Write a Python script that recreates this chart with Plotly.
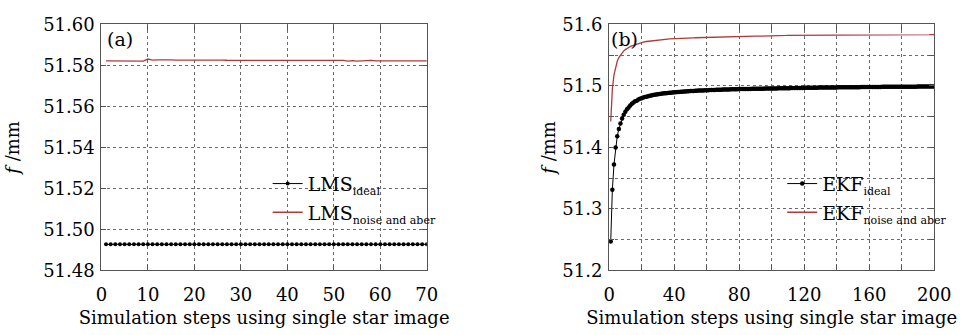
import plotly.graph_objects as go

# ---------------- data ----------------
lms_ideal = [
    51.4927, 51.4927, 51.4927, 51.4927, 51.4927, 51.4927, 51.4927, 51.4927, 51.4927, 51.4927,
    51.4927, 51.4927, 51.4927, 51.4927, 51.4927, 51.4927, 51.4927, 51.4927, 51.4927, 51.4927,
    51.4927, 51.4927, 51.4927, 51.4927, 51.4927, 51.4927, 51.4927, 51.4927, 51.4927, 51.4927,
    51.4927, 51.4927, 51.4927, 51.4927, 51.4927, 51.4927, 51.4927, 51.4927, 51.4927, 51.4927,
    51.4927, 51.4927, 51.4927, 51.4927, 51.4927, 51.4927, 51.4927, 51.4927, 51.4927, 51.4927,
    51.4927, 51.4927, 51.4927, 51.4927, 51.4927, 51.4927, 51.4927, 51.4927, 51.4927, 51.4927,
    51.4927, 51.4927, 51.4927, 51.4927, 51.4927, 51.4927, 51.4927, 51.4927, 51.4927, 51.4927,
]
lms_noise = [
    51.5822, 51.5822, 51.5822, 51.5822, 51.5822, 51.5822, 51.5822, 51.5822, 51.5821, 51.5831,
    51.5826, 51.5827, 51.5828, 51.5828, 51.5827, 51.5826, 51.5826, 51.5827, 51.5828, 51.5829,
    51.5829, 51.5829, 51.5829, 51.5828, 51.5828, 51.5826, 51.5825, 51.5825, 51.5824, 51.5824,
    51.5823, 51.5823, 51.5823, 51.5823, 51.5823, 51.5823, 51.5823, 51.5823, 51.5823, 51.5823,
    51.5823, 51.5823, 51.5823, 51.5823, 51.5823, 51.5823, 51.5823, 51.5823, 51.5823, 51.5823,
    51.5822, 51.5824, 51.5821, 51.5823, 51.5821, 51.5823, 51.5822, 51.5824, 51.5822, 51.5821,
    51.5822, 51.5822, 51.5822, 51.5822, 51.5822, 51.5822, 51.5822, 51.5822, 51.5822, 51.5822,
]
ekf_ideal = [
    51.247, 51.331, 51.372, 51.400, 51.418, 51.430, 51.439, 51.447, 51.453, 51.458,
    51.462, 51.465, 51.468, 51.471, 51.473, 51.475, 51.476, 51.478, 51.479, 51.480,
    51.4810, 51.4818, 51.4825, 51.4832, 51.4838, 51.4844, 51.4850, 51.4855, 51.4860, 51.4865,
    51.4869, 51.4873, 51.4876, 51.4879, 51.4882, 51.4885, 51.4888, 51.4890, 51.4893, 51.4895,
    51.4897, 51.4900, 51.4902, 51.4904, 51.4906, 51.4908, 51.4910, 51.4912, 51.4913, 51.4915,
    51.4917, 51.4918, 51.4920, 51.4921, 51.4923, 51.4924, 51.4926, 51.4927, 51.4929, 51.4930,
    51.4931, 51.4932, 51.4933, 51.4934, 51.4935, 51.4936, 51.4937, 51.4938, 51.4939, 51.4940,
    51.4941, 51.4942, 51.4942, 51.4943, 51.4944, 51.4945, 51.4945, 51.4946, 51.4947, 51.4948,
    51.4948, 51.4949, 51.4949, 51.4950, 51.4950, 51.4951, 51.4951, 51.4952, 51.4952, 51.4953,
    51.4953, 51.4954, 51.4954, 51.4955, 51.4955, 51.4956, 51.4956, 51.4957, 51.4957, 51.4958,
    51.4958, 51.4959, 51.4959, 51.4960, 51.4960, 51.4961, 51.4961, 51.4962, 51.4962, 51.4963,
    51.4963, 51.4964, 51.4964, 51.4965, 51.4965, 51.4966, 51.4966, 51.4967, 51.4967, 51.4968,
    51.4968, 51.4969, 51.4969, 51.4970, 51.4970, 51.4971, 51.4971, 51.4971, 51.4972, 51.4972,
    51.4972, 51.4973, 51.4973, 51.4973, 51.4974, 51.4974, 51.4974, 51.4975, 51.4975, 51.4975,
    51.4976, 51.4976, 51.4976, 51.4976, 51.4977, 51.4977, 51.4977, 51.4977, 51.4978, 51.4978,
    51.4978, 51.4979, 51.4979, 51.4979, 51.4980, 51.4980, 51.4980, 51.4981, 51.4981, 51.4981,
    51.4982, 51.4982, 51.4982, 51.4982, 51.4983, 51.4983, 51.4983, 51.4984, 51.4984, 51.4984,
    51.4984, 51.4985, 51.4985, 51.4985, 51.4985, 51.4986, 51.4986, 51.4986, 51.4986, 51.4987,
    51.4987, 51.4987, 51.4987, 51.4987, 51.4988, 51.4988, 51.4988, 51.4988, 51.4988, 51.4989,
    51.4989, 51.4989, 51.4989, 51.4989, 51.4989, 51.4990, 51.4990, 51.4990, 51.4990, 51.4990,
]
ekf_noise = [
    51.442, 51.495, 51.518, 51.532, 51.540, 51.546, 51.550, 51.554, 51.557, 51.559,
    51.561, 51.5625, 51.564, 51.565, 51.566, 51.567, 51.568, 51.569, 51.570, 51.571,
    51.5714, 51.5718, 51.5722, 51.5726, 51.5730, 51.5734, 51.5738, 51.5742, 51.5746, 51.5750,
    51.5752, 51.5754, 51.5756, 51.5758, 51.5760, 51.5762, 51.5764, 51.5766, 51.5768, 51.5770,
    51.5771, 51.5772, 51.5773, 51.5774, 51.5775, 51.5776, 51.5777, 51.5778, 51.5779, 51.5780,
    51.5781, 51.5782, 51.5783, 51.5784, 51.5784, 51.5785, 51.5786, 51.5786, 51.5787, 51.5788,
    51.5789, 51.5790, 51.5791, 51.5792, 51.5793, 51.5795, 51.5796, 51.5797, 51.5799, 51.5800,
    51.5800, 51.5801, 51.5801, 51.5802, 51.5802, 51.5803, 51.5803, 51.5804, 51.5804, 51.5804,
    51.5805, 51.5805, 51.5805, 51.5806, 51.5806, 51.5806, 51.5807, 51.5807, 51.5807, 51.5808,
    51.5808, 51.5808, 51.5809, 51.5809, 51.5809, 51.5809, 51.5810, 51.5810, 51.5810, 51.5810,
    51.5811, 51.5812, 51.5813, 51.5814, 51.5815, 51.5816, 51.5818, 51.5819, 51.5820, 51.5822,
    51.5822, 51.5822, 51.5822, 51.5822, 51.5823, 51.5823, 51.5823, 51.5823, 51.5823, 51.5823,
    51.5824, 51.5824, 51.5824, 51.5824, 51.5824, 51.5824, 51.5824, 51.5825, 51.5825, 51.5825,
    51.5825, 51.5825, 51.5825, 51.5825, 51.5825, 51.5826, 51.5826, 51.5826, 51.5826, 51.5826,
    51.5826, 51.5826, 51.5826, 51.5826, 51.5826, 51.5826, 51.5826, 51.5826, 51.5826, 51.5826,
    51.5827, 51.5827, 51.5827, 51.5827, 51.5827, 51.5827, 51.5827, 51.5827, 51.5827, 51.5827,
    51.5828, 51.5828, 51.5828, 51.5828, 51.5828, 51.5828, 51.5828, 51.5828, 51.5828, 51.5828,
    51.5829, 51.5829, 51.5829, 51.5829, 51.5829, 51.5829, 51.5829, 51.5829, 51.5829, 51.5829,
    51.5830, 51.5830, 51.5830, 51.5830, 51.5830, 51.5831, 51.5831, 51.5831, 51.5831, 51.5831,
    51.5832, 51.5832, 51.5832, 51.5832, 51.5833, 51.5833, 51.5833, 51.5835, 51.5835, 51.5835,
]

a_xticks = [0, 10, 20, 30, 40, 50, 60, 70]
a_yticks = [51.48, 51.50, 51.52, 51.54, 51.56, 51.58, 51.60]
a_ytick_text = ["51.48", "51.50", "51.52", "51.54", "51.56", "51.58", "51.60"]
b_xticks = [0, 20, 40, 60, 80, 100, 120, 140, 160, 180, 200]
b_xtick_text = ["0", "", "40", "", "80", "", "120", "", "160", "", "200"]
b_yticks = [51.2, 51.25, 51.3, 51.35, 51.4, 51.45, 51.5, 51.55, 51.6]
b_ytick_text = ["51.2", "", "51.3", "", "51.4", "", "51.5", "", "51.6"]

x_title = "Simulation steps using single star image"
y_title = "<i>f</i> /mm"
SUB = '<sub><span style="font-size:11px">{}</span></sub>'
leg_names = [
    "LMS" + SUB.format("ideal"),
    "LMS" + SUB.format("noise and aber"),
    "EKF" + SUB.format("ideal"),
    "EKF" + SUB.format("noise and aber"),
]

# ---------------- style ----------------
FONT = "DejaVu Serif"
FS = 18
RED = "#b03a3a"
FRAME = "#555555"
GRID = "#6a6a6a"

fig = go.Figure()

fig.add_trace(go.Scatter(x=list(range(1, len(lms_ideal) + 1)), y=lms_ideal, mode="lines+markers",
                         line=dict(color="black", width=1),
                         marker=dict(color="black", size=4),
                         name=leg_names[0], legend="legend", legendgroup="a1",
                         xaxis="x", yaxis="y"))
fig.add_trace(go.Scatter(x=list(range(1, len(lms_noise) + 1)), y=lms_noise, mode="lines",
                         line=dict(color=RED, width=1.3),
                         name=leg_names[1], legend="legend", legendgroup="a2",
                         xaxis="x", yaxis="y"))
fig.add_trace(go.Scatter(x=list(range(1, len(ekf_ideal) + 1)), y=ekf_ideal, mode="lines+markers",
                         line=dict(color="black", width=1),
                         marker=dict(color="black", size=4.5),
                         name=leg_names[2], legend="legend2", legendgroup="b1",
                         xaxis="x2", yaxis="y2"))
fig.add_trace(go.Scatter(x=list(range(1, len(ekf_noise) + 1)), y=ekf_noise, mode="lines",
                         line=dict(color=RED, width=1.3),
                         name=leg_names[3], legend="legend2", legendgroup="b2",
                         xaxis="x2", yaxis="y2"))

W, H = 973, 335
axL, axR = 97.7, 431.0
bxL, bxR = 617.7, 950.7
yT, yB = 14.3, 276.7

common_axis = dict(
    showline=True, linecolor=FRAME, linewidth=1.2, mirror="ticks",
    ticks="inside", ticklen=5, tickcolor=FRAME, tickwidth=1,
    showgrid=True, gridcolor=GRID, gridwidth=1, griddash="dot",
    zeroline=False, tickfont=dict(family=FONT, size=FS, color="black"),
)

leg_common = dict(xanchor="left", yanchor="top", bgcolor="rgba(0,0,0,0)", borderwidth=0,
                  itemwidth=30, font=dict(family=FONT, size=19), tracegroupgap=1)

fig.update_layout(
    width=W, height=H,
    margin=dict(l=0, r=0, t=0, b=0),
    paper_bgcolor="white", plot_bgcolor="white",
    font=dict(family=FONT, size=FS, color="black"),
    xaxis=dict(common_axis, domain=[axL / W, axR / W], range=[0, 70],
               tickvals=a_xticks, anchor="y", ticklabelstandoff=8,
               title=dict(text=x_title, standoff=7, font=dict(family=FONT, size=FS))),
    yaxis=dict(common_axis, domain=[1 - yB / H, 1 - yT / H], range=[51.48, 51.60],
               tickvals=a_yticks, ticktext=a_ytick_text, anchor="x", ticklabelstandoff=2,
               title=dict(text=y_title, standoff=18, font=dict(family=FONT, size=FS))),
    xaxis2=dict(common_axis, domain=[bxL / W, bxR / W], range=[0, 200],
                tickvals=b_xticks, ticktext=b_xtick_text, anchor="y2", ticklabelstandoff=8,
                title=dict(text=x_title, standoff=7, font=dict(family=FONT, size=FS))),
    yaxis2=dict(common_axis, domain=[1 - yB / H, 1 - yT / H], range=[51.2, 51.6],
                tickvals=b_yticks, ticktext=b_ytick_text, anchor="x2", ticklabelstandoff=2,
                title=dict(text=y_title, standoff=2, font=dict(family=FONT, size=FS))),
    legend=dict(leg_common, x=268 / W, y=1 - 164 / H),
    legend2=dict(leg_common, x=795 / W, y=1 - 164 / H),
    showlegend=True,
    annotations=[
        dict(text="(a)", x=101 / W, y=1 - 30 / H, xref="paper", yref="paper",
             xanchor="left", yanchor="middle", showarrow=False,
             font=dict(family=FONT, size=19)),
        dict(text="(b)", x=618 / W, y=1 - 30 / H, xref="paper", yref="paper",
             xanchor="left", yanchor="middle", showarrow=False,
             font=dict(family=FONT, size=19)),
    ],
)

fig.write_html("out.html")
